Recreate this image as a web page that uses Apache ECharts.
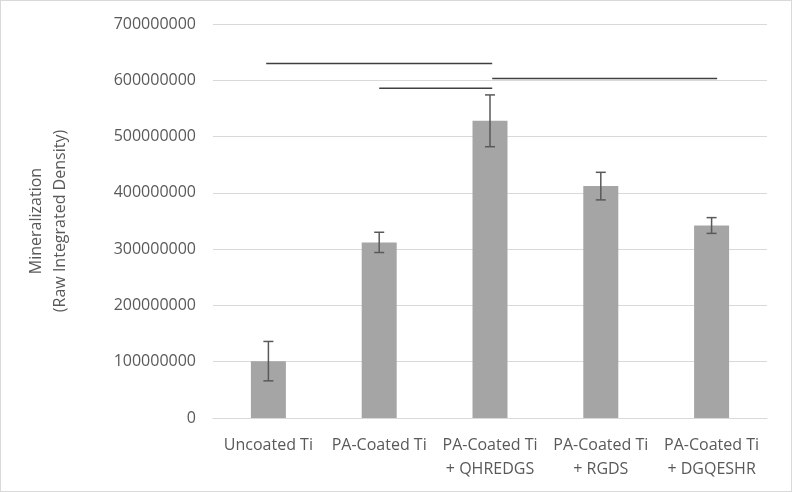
<!DOCTYPE html>
<html>
<head>
<meta charset="utf-8">
<script src="https://cdn.jsdelivr.net/npm/echarts@6/dist/echarts.min.js"></script>
<style>
  html, body { margin: 0; padding: 0; background: #fff; }
  #chart { width: 792px; height: 492px; box-sizing: border-box; border: 1px solid #d9d9d9; }
</style>
</head>
<body>
<div id="chart"></div>
<script>
// ---- data ----
var categories = ['Uncoated Ti', 'PA-Coated Ti', 'PA-Coated Ti\n+ QHREDGS', 'PA-Coated Ti\n+ RGDS', 'PA-Coated Ti\n+ DGQESHR'];
var values = [101000000, 312000000, 528000000, 412000000, 342000000];
var errors = [35000000, 18000000, 46000000, 24500000, 14000000];
// significance brackets: [startPosition, endPosition, level] (positions in category index units)
var sigStart = [-0.02, 1.0, 2.02];
var sigEnd = [2.02, 2.02, 4.05];
var sigLevel = [630000000, 586000000, 603000000];
var yTicks = { min: 0, max: 700000000, interval: 100000000 };

var chart = echarts.init(document.getElementById('chart'), null, { renderer: 'canvas' });
var font = '"Open Sans", "Noto Sans", sans-serif';
var textColor = '#595959';

var errData = values.map(function (v, i) { return [i, v - errors[i], v + errors[i]]; });

var sigSeries = sigStart.map(function (s, i) {
  return {
    type: 'line',
    xAxisIndex: 1,
    data: [[s, sigLevel[i]], [sigEnd[i], sigLevel[i]]],
    symbol: 'none',
    lineStyle: { color: '#404040', width: 1.5 },
    silent: true,
    animation: false,
    z: 5
  };
});

var option = {
  animation: false,
  grid: { left: 212, right: 24, top: 23, bottom: 73, containLabel: false },
  xAxis: [{
    type: 'category',
    data: categories,
    axisLine: { show: true, lineStyle: { color: '#d9d9d9', width: 1 } },
    axisTick: { show: false },
    axisLabel: { color: textColor, fontFamily: font, fontSize: 16, lineHeight: 24, margin: 15, interval: 0 },
    splitLine: { show: false }
  }, {
    type: 'value',
    min: -0.5,
    max: 4.5,
    show: false
  }],
  yAxis: {
    type: 'value',
    min: yTicks.min,
    max: yTicks.max,
    interval: yTicks.interval,
    name: 'Mineralization\n(Raw Integrated Density)',
    nameLocation: 'middle',
    nameGap: 141,
    nameTextStyle: { color: textColor, fontFamily: font, fontSize: 16, lineHeight: 24 },
    axisLine: { show: false },
    axisTick: { show: false },
    axisLabel: { color: textColor, fontFamily: font, fontSize: 16, margin: 17, formatter: function (v) { return String(v); } },
    splitLine: { lineStyle: { color: '#d9d9d9', width: 1 } }
  },
  series: [{
    type: 'bar',
    data: values,
    barWidth: 35,
    itemStyle: { color: '#a5a5a5' },
    silent: true
  }, {
    type: 'custom',
    data: errData,
    z: 4,
    silent: true,
    renderItem: function (params, api) {
      var x = api.value(0);
      var lo = api.coord([x, api.value(1)]);
      var hi = api.coord([x, api.value(2)]);
      var cap = 5;
      var style = { stroke: '#595959', lineWidth: 1.5 };
      return {
        type: 'group',
        children: [
          { type: 'line', shape: { x1: hi[0], y1: hi[1], x2: lo[0], y2: lo[1] }, style: style },
          { type: 'line', shape: { x1: hi[0] - cap, y1: hi[1], x2: hi[0] + cap, y2: hi[1] }, style: style },
          { type: 'line', shape: { x1: lo[0] - cap, y1: lo[1], x2: lo[0] + cap, y2: lo[1] }, style: style }
        ]
      };
    }
  }].concat(sigSeries)
};
chart.setOption(option);
</script>
</body>
</html>
